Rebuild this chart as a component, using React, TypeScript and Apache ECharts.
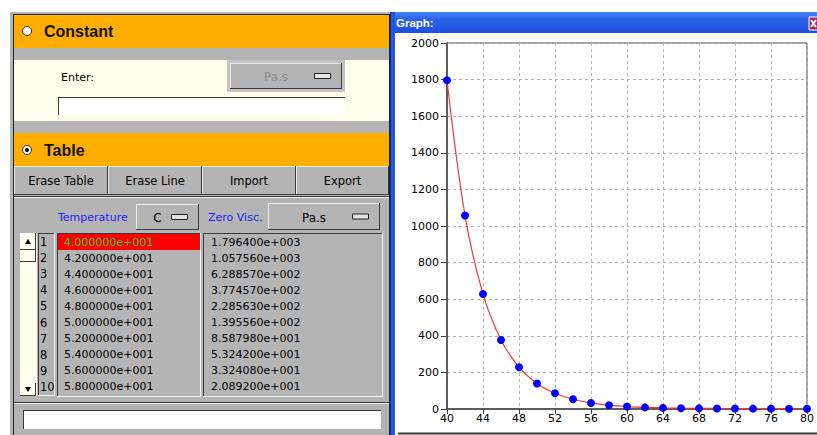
import React, { useEffect, useRef } from "react";
import * as echarts from "echarts";

// ---- Data ----
const temperatures = [40, 42, 44, 46, 48, 50, 52, 54, 56, 58, 60, 62, 64, 66, 68, 70, 72, 74, 76, 78, 80];
const zeroVisc = [1796.4, 1057.56, 628.857, 377.457, 228.563, 139.556, 85.8798, 53.242, 33.2408, 20.892,
  13.5, 9.0, 6.0, 4.5, 3.5, 3.0, 2.5, 2.0, 2.0, 1.5, 1.5];
const visibleRows = 10;
const buttonLabels = ["Erase Table", "Erase Line", "Import", "Export"];
const tempUnit = "C";
const viscUnit = "Pa.s";

const ORANGE = "#FFAE00";
const GRAY = "#B4B4B4";
const CREAM = "#FFFFEB";
const DARK = "#3A3A3A";
const LIGHT = "#ECECEC";
const BLUE_TXT = "#1E1EFF";
const UI = '"DejaVu Sans", Verdana, sans-serif';
const HEAD = '"Liberation Sans", Arial, sans-serif';

function fmt(n: number): string {
  const s = n.toExponential(6);
  const [m, e] = s.split("e");
  const sign = e[0] === "-" ? "-" : "+";
  const digits = e.replace(/[+-]/, "").padStart(3, "0");
  return `${m}e${sign}${digits}`;
}

function rect(x: number, y: number, w: number, h: number, fill: string, extra: any = {}) {
  return { type: "rect", silent: true, shape: { x, y, width: w, height: h }, style: { fill, ...extra } };
}
function line(x1: number, y1: number, x2: number, y2: number, stroke: string, lineWidth = 1) {
  return { type: "line", silent: true, shape: { x1, y1, x2, y2 }, style: { stroke, lineWidth } };
}
function text(x: number, y: number, str: string, opts: any = {}) {
  return {
    type: "text",
    silent: true,
    x,
    y,
    style: {
      text: str,
      fill: opts.fill || "#000",
      fontSize: opts.fontSize || 11,
      fontFamily: opts.fontFamily || UI,
      fontWeight: opts.fontWeight || "normal",
      align: opts.align || "left",
      verticalAlign: "middle",
    },
  };
}
function bevel(x: number, y: number, w: number, h: number, tl: string, br: string) {
  return [
    line(x, y + 0.5, x + w, y + 0.5, tl),
    line(x + 0.5, y, x + 0.5, y + h, tl),
    line(x, y + h - 0.5, x + w, y + h - 0.5, br),
    line(x + w - 0.5, y, x + w - 0.5, y + h, br),
  ];
}
function dropdown(x: number, y: number, w: number, h: number, label: string, color: string) {
  return [
    rect(x, y, w, h, GRAY),
    ...bevel(x, y, w, h, LIGHT, DARK),
    text(x + (w - 20) / 2, y + h / 2 + 1, label, { fontSize: 12, fill: color, align: "center" }),
    rect(x + w - 27.5, y + h / 2 - 2.5, 16, 5, "#E4E4E4", { stroke: "#222", lineWidth: 1 }),
  ];
}

function buildGraphics() {
  const g: any[] = [];
  // outer left panel
  g.push(rect(10, 12, 380, 423, GRAY));
  g.push(line(13.5, 14, 13.5, 435, "#222"));
  g.push(line(13, 14.5, 390, 14.5, "#222"));
  g.push(line(389.5, 14, 389.5, 435, "#222"));

  // Constant header
  g.push(rect(14, 15, 375, 33, ORANGE));
  g.push({ type: "circle", silent: true, shape: { cx: 27, cy: 31, r: 4.5 }, style: { fill: "#fff", stroke: "#333", lineWidth: 1 } });
  g.push(text(44, 31.5, "Constant", { fontSize: 16, fontWeight: "bold", fontFamily: HEAD, fill: "#111" }));
  g.push(rect(14, 60, 375, 61, CREAM));
  g.push(text(61, 77, "Enter:", { fontSize: 11 }));
  g.push(rect(227, 60, 118, 32, "#C4C4C4"));
  g.push(...dropdown(230, 63, 112, 26, viscUnit, "#8E8E8E"));
  g.push(rect(58, 97, 287, 18, "#fff"));
  g.push(line(58, 97.5, 345, 97.5, DARK));
  g.push(line(58.5, 97, 58.5, 115, DARK));

  // Table header
  g.push(rect(14, 133, 375, 33, ORANGE));
  g.push({ type: "circle", silent: true, shape: { cx: 27, cy: 150, r: 4.5 }, style: { fill: "#fff", stroke: "#333", lineWidth: 1 } });
  g.push({ type: "circle", silent: true, shape: { cx: 27, cy: 150, r: 2 }, style: { fill: "#000" } });
  g.push(text(44, 150.5, "Table", { fontSize: 16, fontWeight: "bold", fontFamily: HEAD, fill: "#111" }));

  // Buttons
  const bx = [14, 108, 202, 296, 389];
  buttonLabels.forEach((lab, i) => {
    const x = bx[i];
    const w = bx[i + 1] - bx[i];
    g.push(rect(x, 166, w, 29, GRAY));
    g.push(...bevel(x, 166, w, 29, LIGHT, DARK));
    g.push(text(x + w / 2, 181, lab, { fontSize: 11.5, align: "center" }));
  });
  g.push(line(14, 196.5, 389, 196.5, DARK));
  g.push(line(14, 197.5, 389, 197.5, LIGHT));

  // unit selectors
  g.push(text(58, 217, "Temperature", { fill: BLUE_TXT, fontSize: 11 }));
  g.push(...dropdown(136, 204, 63, 26, tempUnit, "#000"));
  g.push(text(208, 217, "Zero Visc.", { fill: BLUE_TXT, fontSize: 11 }));
  g.push(...dropdown(268, 203, 112, 27, viscUnit, "#000"));

  // table
  g.push(rect(20, 233, 17, 163, CREAM));
  g.push(...bevel(20, 233, 16, 17, "#fff", DARK));
  g.push({ type: "polygon", silent: true, shape: { points: [[25, 244], [31, 244], [28, 239]] }, style: { fill: "#000" } });
  g.push(...bevel(20, 250, 16, 12, "#fff", DARK));
  g.push(...bevel(20, 383, 16, 13, "#fff", DARK));
  g.push({ type: "polygon", silent: true, shape: { points: [[25, 387], [31, 387], [28, 392]] }, style: { fill: "#000" } });

  g.push(rect(38, 233, 17, 163, GRAY));
  g.push(...bevel(38, 233, 17, 163, DARK, "#F4F4F4"));
  g.push(rect(57, 233, 143, 163, GRAY));
  g.push(...bevel(57, 233, 144, 164, DARK, "#F4F4F4"));
  g.push(rect(203, 233, 179, 163, GRAY));
  g.push(...bevel(203, 233, 180, 164, DARK, "#F4F4F4"));
  g.push(rect(58, 234, 142, 16, "#FF0000"));

  for (let i = 0; i < visibleRows; i++) {
    const y = 242 + i * 16.1;
    g.push(text(40, y, String(i + 1), { fontSize: 11.5 }));
    g.push(text(64, y, fmt(temperatures[i]), { fontSize: 11, fill: i === 0 ? "#2EC82E" : "#000" }));
    g.push(text(211, y, fmt(zeroVisc[i]), { fontSize: 11 }));
  }

  // status
  g.push(line(14, 402.5, 389, 402.5, DARK));
  g.push(line(14, 403.5, 389, 403.5, LIGHT));
  g.push(rect(23, 410, 358, 19, "#fff"));
  g.push(line(23, 410.5, 381, 410.5, DARK));
  g.push(line(23.5, 410, 23.5, 429, DARK));

  // Graph window frame
  g.push(rect(390, 12, 427, 21, "#2A5FE6", {
    fill: {
      type: "linear", x: 0, y: 0, x2: 0, y2: 1,
      colorStops: [
        { offset: 0, color: "#4A86F4" },
        { offset: 0.35, color: "#2A62EA" },
        { offset: 1, color: "#1D50DC" },
      ],
    },
  }));
  g.push(rect(390, 12, 5, 423, "#2355E2"));
  g.push(line(390.5, 12, 390.5, 435, "#0F2F9E"));
  g.push(text(396, 23, "Graph:", { fontSize: 11.5, fontWeight: "bold", fontFamily: HEAD, fill: "#fff" }));
  g.push(rect(809, 17, 10, 13, "#A22A5E", { stroke: "#fff", lineWidth: 1 }));
  g.push(line(811, 20, 816, 27, "#fff", 2));
  g.push(line(816, 20, 811, 27, "#fff", 2));
  g.push(line(398, 433.5, 817, 433.5, "#333", 2));
  return g;
}

export default function App() {
  const ref = useRef<HTMLDivElement>(null);
  useEffect(() => {
    document.body.style.margin = "0";
    if (!ref.current) return;
    const chart = echarts.init(ref.current, null, { renderer: "svg" });
    const axisLabel = { color: "#000", fontSize: 11, fontFamily: UI, formatter: (v: number) => String(v) };
    chart.setOption({
      animation: false,
      backgroundColor: "#fff",
      graphic: { elements: buildGraphics() },
      grid: {
        left: 447, top: 43, right: 7, bottom: 26,
        show: true, backgroundColor: "#fff", borderColor: "#444", borderWidth: 1,
      },
      xAxis: {
        type: "value", min: 40, max: 80, interval: 4,
        axisLine: { show: true, onZero: false, lineStyle: { color: "#444", width: 1.5 } },
        axisTick: { show: true, length: 5, lineStyle: { color: "#444" } },
        axisLabel: { ...axisLabel, margin: 4 },
        splitLine: { show: true, lineStyle: { color: "#B4B4B4", type: [3, 3] } },
      },
      yAxis: {
        type: "value", min: 0, max: 2000, interval: 200,
        axisLine: { show: true, lineStyle: { color: "#444", width: 1.5 } },
        axisTick: { show: true, length: 6, lineStyle: { color: "#444" } },
        axisLabel: { ...axisLabel, margin: 8 },
        splitLine: { show: true, lineStyle: { color: "#B4B4B4", type: [3, 3] } },
      },
      series: [
        {
          type: "line",
          data: temperatures.map((t, i) => [t, zeroVisc[i]]),
          smooth: 0.35,
          clip: false,
          symbol: "circle",
          symbolSize: 8,
          itemStyle: { color: "#0000FF" },
          lineStyle: { color: "#FF3030", width: 1.2 },
        },
      ],
    });
    return () => chart.dispose();
  }, []);
  return <div ref={ref} style={{ width: 817, height: 435 }} />;
}
